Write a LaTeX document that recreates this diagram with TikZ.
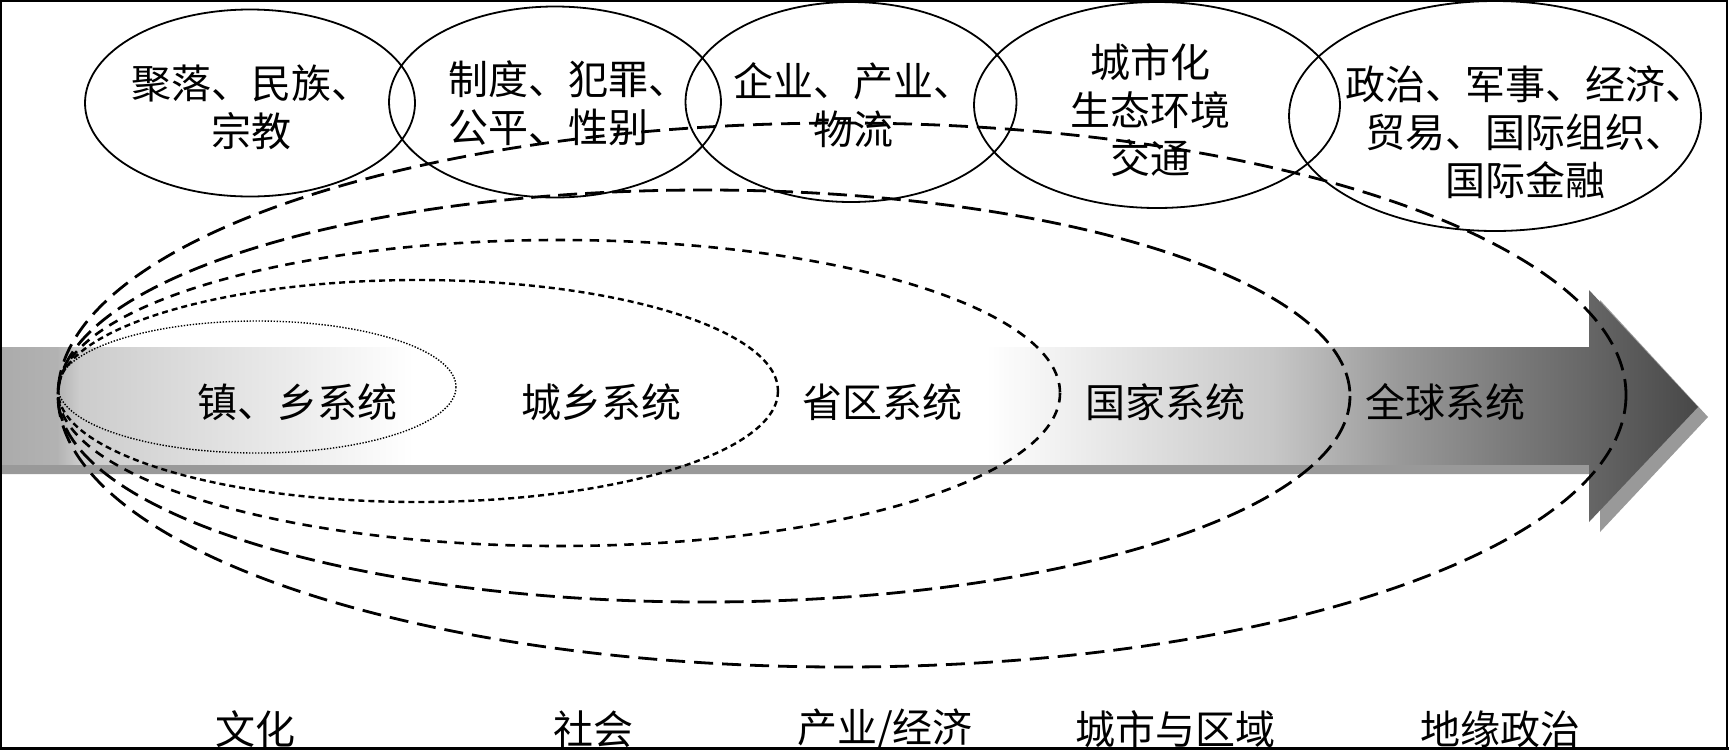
\documentclass[tikz,border=0pt]{standalone}
\usepackage{fontspec}
\newfontfamily\cjk{Noto Sans CJK SC}
\usetikzlibrary{shapes.geometric}
\pgfdeclarehorizontalshading{shaftshade}{100bp}{color(0bp)=(black!33); color(25bp)=(black!33); color(26.8bp)=(black!30); color(27.5bp)=(black!20); color(34bp)=(black!8); color(38bp)=(white); color(56bp)=(white); color(65bp)=(black!22); color(69bp)=(black!40); color(72.5bp)=(black!52); color(75bp)=(black!60); color(100bp)=(black!60)}
\pgfdeclarehorizontalshading{headshade}{100bp}{color(0bp)=(black!60); color(25bp)=(black!60); color(75bp)=(black!72); color(100bp)=(black!72)}
\tikzset{
  bubble/.style={draw=black, line width=1.8pt, ellipse, inner sep=0pt},
  txt/.style={font=\cjk\fontsize{40}{48}\selectfont, inner sep=0pt, align=center},
  txtl/.style={font=\cjk\fontsize{40}{48}\selectfont, inner sep=0pt, align=left, anchor=west},
  ringA/.style={line width=1.4pt, dash pattern=on 1.4pt off 1.6pt},
  ringB/.style={line width=2.4pt, dash pattern=on 6pt off 4pt},
  ringC/.style={line width=2.6pt, dash pattern=on 9.5pt off 7.5pt},
  ringD/.style={line width=2.8pt, dash pattern=on 19pt off 8pt},
  ringE/.style={line width=2.8pt, dash pattern=on 19pt off 9pt},
  shadowfill/.style={fill=black!40, draw=none}
}
\begin{document}
\begin{tikzpicture}[x=1pt,y=-1pt]
\useasboundingbox (0,0) rectangle (1731,753);
\fill[white] (0,0) rectangle (1731,753);

% arrow shadow
\path[shadowfill] (0,357) -- (1600,357) -- (1600,300) -- (1708,417) -- (1600,532) -- (1600,474) -- (0,474) -- cycle;
% arrow shaft and head
\path[shading=shaftshade] (0,347) rectangle (1590,464);
\path[shading=headshade] (1589,290) -- (1698,407) -- (1589,522) -- cycle;

% nested system rings
\draw[ringA] (257,387) ellipse [x radius=199, y radius=66];
\draw[ringB] (418,391) ellipse [x radius=360, y radius=111];
\draw[ringC] (559,393) ellipse [x radius=501, y radius=153];
\draw[ringD] (704,396) ellipse [x radius=646, y radius=206];
\draw[ringE] (842,395) ellipse [x radius=784, y radius=272];

% top bubbles
\node[bubble, minimum width=330pt, minimum height=187pt] (c1) at (250,103) {};
\node[bubble, minimum width=332pt, minimum height=191pt] (c2) at (555,102) {};
\node[bubble, minimum width=331pt, minimum height=200pt] (c3) at (851,102) {};
\node[bubble, minimum width=366pt, minimum height=206pt] (c4) at (1157,105) {};
\node[bubble, minimum width=412pt, minimum height=230pt] (c5) at (1495,116) {};

\node[txt] (t1) at (251,107.5) {聚落、民族、\\宗教};
\node[txtl] (t2) at (448,103) {制度、犯罪、\\公平、性别};
\node[txt] (t3) at (853,105) {企业、产业、\\物流};
\node[txt] (t4) at (1150,110.5) {城市化\\生态环境\\交通};
\node[txt] (t5) at (1525,132.5) {政治、军事、经济、\\贸易、国际组织、\\国际金融};

% system labels
\node[txt] (s1) at (297,402) {镇、乡系统};
\node[txt] (s2) at (601,402) {城乡系统};
\node[txt] (s3) at (882,402) {省区系统};
\node[txt] (s4) at (1165,402) {国家系统};
\node[txt] (s5) at (1445,402) {全球系统};

% bottom labels
\node[txt] (b1) at (255,729) {文化};
\node[txt] (b2) at (593,729) {社会};
\node[txt] (b3) at (885,729) {产业/经济};
\node[txt] (b4) at (1175,729) {城市与区域};
\node[txt] (b5) at (1500,729) {地缘政治};

% frame
\draw[line width=1.5pt] (1,1) rectangle (1727,748);
\draw[line width=2.5pt] (1727,0) -- (1727,749.5);
\draw[line width=3pt] (0,748.5) -- (1728.5,748.5);
\end{tikzpicture}
\end{document}
